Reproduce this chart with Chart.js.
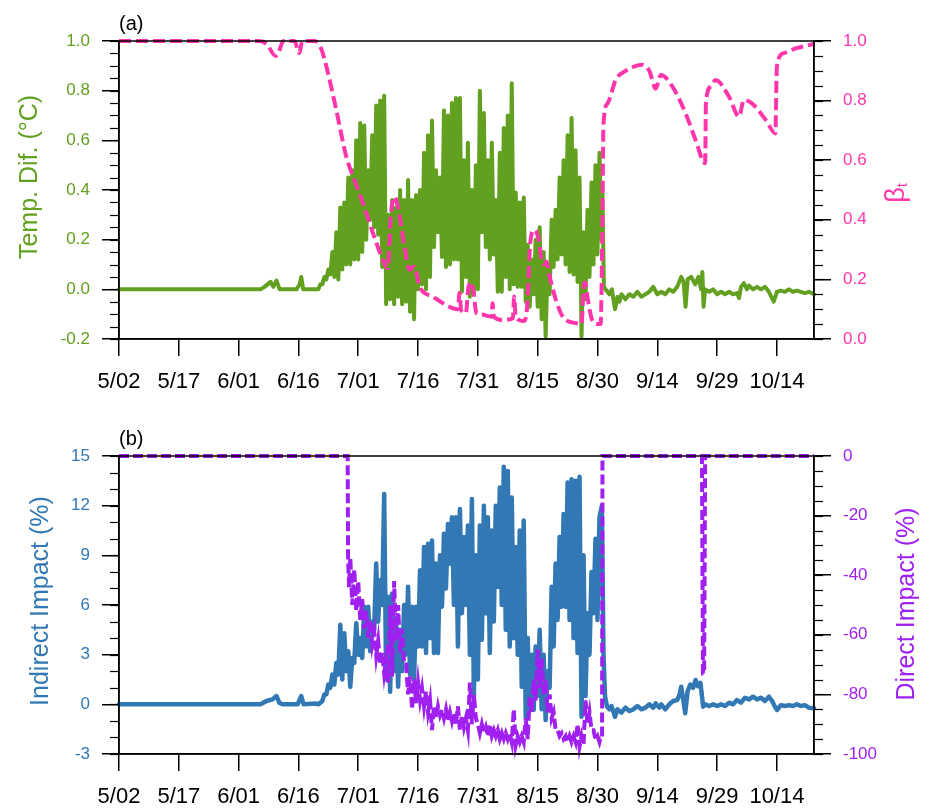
<!DOCTYPE html>
<html>
<head>
<meta charset="utf-8">
<script src="https://cdn.jsdelivr.net/npm/chart.js@4.4.1/dist/chart.umd.min.js"></script>
<style>
  html, body { margin: 0; padding: 0; background: #fff; }
  #wrap { position: relative; width: 930px; height: 808px; }
  canvas { position: absolute; left: 0; }
  #chartA { top: 0; }
  #chartB { top: 415px; }
</style>
</head>
<body>
<div id="wrap">
  <canvas id="chartA" width="930" height="393"></canvas>
  <canvas id="chartB" width="930" height="393"></canvas>
</div>
<script>
// x axis: days since 5/02
const tickDays = [0, 15, 30, 45, 60, 75, 90, 105, 120, 135, 150, 165];
const tickLabels = ['5/02', '5/17', '6/01', '6/16', '7/01', '7/16', '7/31', '8/15', '8/30', '9/14', '9/29', '10/14'];
const lastDay = 174.3;

// (a) Temp. Dif. -- quiet spans as day/value pairs, active span as daily low/high (from day 50)
const tempQuietDays = [0, 35.5, 36.5, 38, 38.7, 39.5, 40.3, 44.5, 45.3, 45.7, 46.2, 49.5,
  121.0, 121.2, 121.6, 122, 123, 123.6, 124.4, 125, 125.5, 126, 127, 128, 129, 130, 131, 132, 133, 134, 135, 136,
  137, 138, 139, 140, 141, 141.6, 142.1, 142.6, 143.5, 144.5, 145.3, 146, 146.3, 146.6, 147, 148, 149, 150, 151, 152,
  153, 154, 155, 155.5, 156, 156.7, 157.5, 158, 159, 160, 161, 162, 163, 164.2, 165, 166, 167, 168, 169, 170,
  171, 172, 173, 174.3];
const tempQuietVals = [0, 0, 0.01, 0.03, 0.01, 0.035, 0, 0, 0.02, 0.05, 0, 0,
  0.2, 0.42, 0.01, 0.0, -0.02, 0.0, -0.08, -0.03, -0.05, -0.02, -0.04, -0.02, -0.03, -0.01, -0.03, -0.02, -0.01, 0.01, -0.02, -0.01,
  -0.02, 0.0, -0.01, 0.01, 0.05, 0.03, -0.07, 0.04, 0.05, 0.02, 0.05, 0.0, 0.07, -0.07, 0.0, -0.01, 0.0, -0.02, -0.01, -0.02,
  -0.01, -0.02, -0.015, -0.035, 0.01, 0.025, 0.0, 0.015, 0.0, 0.01, 0.0, 0.01, -0.01, -0.05, -0.01, -0.005, -0.01, 0.0, -0.01, -0.005,
  -0.01, -0.015, -0.01, -0.02];
const activeStart = 50;
const tempDailyLow = [0.0, 0.02, 0.04, 0.06, 0.05, 0.04, 0.08, 0.10, 0.10, 0.12,
  0.12, 0.15, 0.20, 0.28, 0.25, 0.22, 0.09, -0.06, -0.04, -0.06,
  -0.03, -0.06, -0.05, -0.09, -0.12, 0.0, 0.02, 0.0, 0.05, 0.17,
  0.23, 0.13, 0.09, 0.10, 0.12, 0.12, -0.01, 0.05, -0.03, -0.02,
  0.0, 0.23, 0.17, 0.12, 0.14, -0.01, -0.01, 0.05, 0.0, 0.02,
  0.01, 0.01, -0.05, -0.07, -0.02, -0.07, -0.12, -0.19, -0.02, 0.09,
  0.12, 0.14, 0.10, 0.07, 0.06, 0.03, -0.19, -0.04, 0.05, 0.10,
  0.14];
const tempDailyHigh = [0.02, 0.05, 0.08, 0.15, 0.23, 0.33, 0.35, 0.45, 0.48, 0.60,
  0.67, 0.66, 0.48, 0.62, 0.74, 0.76, 0.78, 0.30, 0.36, 0.33,
  0.40, 0.36, 0.44, 0.36, 0.38, 0.40, 0.55, 0.62, 0.68, 0.48,
  0.45, 0.72, 0.70, 0.75, 0.77, 0.77, 0.52, 0.59, 0.40, 0.50,
  0.80, 0.71, 0.52, 0.59, 0.36, 0.55, 0.65, 0.70, 0.83, 0.39,
  0.35, 0.37, 0.18, 0.12, 0.20, 0.25, 0.15, 0.10, 0.28, 0.32,
  0.45, 0.52, 0.62, 0.69, 0.56, 0.45, 0.23, 0.32, 0.43, 0.50,
  0.55];

// (a) beta_t
const betaDays = [0, 35, 37, 39.3, 40, 41.2, 44, 45.2, 46, 49,
  50.5, 51.6, 54.5, 57, 58.7, 61.2, 63.7, 66.2, 67.4, 68.2,
  69.1, 70.4, 71.6, 72.9, 74.1, 75.4, 78.7, 82.9, 85, 85.4,
  85.8, 87, 87.6, 88.3, 89, 89.6, 91, 93.4, 93.7, 94,
  96.2, 98.8, 99.1, 99.5, 101.5, 102.3, 103.2, 104.2, 105.3, 105.8,
  106.6, 107.2, 108, 109.6, 111.3, 114.6, 116, 116.5, 116.9, 117.5,
  118.5, 119.2, 120.8, 121.2, 121.5, 122.5, 124.6, 127.1, 131.3, 133,
  134.6, 135.9, 138.8, 142.1, 144.6, 147, 147.2, 148.4, 149.6, 153,
  155.5, 156.7, 158.8, 162.2, 164.6, 165, 166.7, 169.7, 174.3];
const betaVals = [1, 1, 0.99, 0.95, 0.96, 1, 1, 0.96, 1, 1,
  0.98, 0.936, 0.768, 0.612, 0.545, 0.456, 0.355, 0.265, 0.237, 0.42,
  0.477, 0.41, 0.31, 0.232, 0.243, 0.175, 0.142, 0.108, 0.10, 0.155,
  0.097, 0.087, 0.17, 0.19, 0.15, 0.087, 0.082, 0.075, 0.12, 0.075,
  0.064, 0.07, 0.143, 0.075, 0.06, 0.10, 0.33, 0.366, 0.33, 0.28,
  0.25, 0.26, 0.21, 0.13, 0.075, 0.053, 0.05, 0.17, 0.19, 0.14,
  0.07, 0.053, 0.05, 0.35, 0.72, 0.79, 0.87, 0.90, 0.92, 0.90,
  0.84, 0.886, 0.847, 0.757, 0.668, 0.59, 0.79, 0.847, 0.869, 0.813,
  0.746, 0.802, 0.79, 0.735, 0.69, 0.914, 0.959, 0.975, 0.99];

// (b) Indirect Impact (%)
const indQuietDays = [0, 35.5, 37, 38.5, 39.5, 40.2, 41, 44.8, 45.7, 46.3, 49.5,
  121.1, 121.5, 121.9, 122.4, 123, 123.5, 124.4, 125, 126, 127, 128, 129, 130, 131, 132, 133, 134, 134.6, 135.5, 136,
  137, 138, 139, 140, 140.6, 141, 141.5, 142, 142.6, 143.3, 144, 144.6, 145.2, 145.8, 146.2, 146.5, 147, 148, 149, 150,
  151, 152, 153, 154, 155, 156, 157, 158, 159, 160, 161, 162, 163, 163.8, 164.5, 165, 166, 167, 168, 169,
  170, 171, 172, 173, 174.3];
const indQuietVals = [0, 0, 0.2, 0.3, 0.5, 0.1, 0, 0, 0.5, 0, 0.05,
  12.0, 3.0, 0.46, -0.14, -0.3, -0.1, -0.75, -0.3, -0.5, -0.2, -0.4, -0.3, -0.1, -0.3, -0.2, 0.0, -0.2, 0.06, -0.2, 0.0,
  -0.3, 0.0, 0.2, 0.26, 0.6, 1.06, 0.3, -0.54, 0.8, 1.2, 1.0, 1.47, 1.1, 1.3, 0.5, -0.14, 0.0, -0.1, 0.0, -0.1,
  0.0, -0.1, 0.1, 0.0, 0.26, 0.1, 0.4, 0.3, 0.46, 0.3, 0.4, 0.2, 0.46, 0.2, -0.14, -0.34, -0.05, -0.1, -0.05, -0.1,
  0.0, -0.1, -0.05, -0.2, -0.24];
const indDailyLow = [0.0, 0.2, 0.6, 1.0, 1.2, 1.8, 1.5, 2.0, 1.06, 2.5,
  3.0, 2.8, 3.5, 3.2, 4.5, 5.0, 6.0, 1.5, 0.76, 2.0,
  1.06, 2.0, 3.0, 1.8, 1.5, 3.5, 3.5, 3.1, 4.0, 3.1,
  3.1, 5.9, 7.0, 8.5, 6.0, 3.5, 5.5, 6.0, 3.0, 0.46,
  1.5, 3.9, 5.5, 3.1, 5.0, 7.1, 6.0, 4.5, 3.5, 4.0,
  3.0, 1.06, -0.75, -0.4, -0.34, 0.5, -0.3, -0.95, 1.0, 3.5,
  5.1, 5.9, 5.9, 5.1, 4.0, 3.1, -0.75, 0.5, 3.0, 5.5,
  5.1];
const indDailyHigh = [0.1, 0.6, 1.2, 1.8, 2.5, 4.8, 4.3, 3.2, 2.8, 4.9,
  4.0, 5.9, 5.9, 5.0, 8.5, 7.5, 12.7, 6.5, 6.7, 5.1,
  4.5, 6.0, 7.1, 5.9, 5.9, 8.1, 9.5, 9.7, 9.9, 8.5,
  9.0, 10.3, 10.9, 11.3, 11.3, 11.8, 10.1, 10.8, 12.4, 9.0,
  10.8, 12.0, 11.3, 10.5, 12.0, 13.1, 14.35, 14.1, 12.5, 9.5,
  10.5, 11.1, 4.0, 3.0, 3.5, 4.5, 3.0, 2.0, 7.1, 8.5,
  10.1, 11.5, 13.4, 13.6, 13.5, 13.75, 9.0, 5.5, 8.0, 10.0,
  11.3];

// (b) Direct Impact (%) -- steps as day/value pairs, active span daily high/low from day 58
const directDays = [0, 57.35, 57.45, 57.7, 120.7, 121.15, 121.25, 146.2, 146.45, 146.75, 147.0, 174.3];
const directVals = [0, 0, -34, -44, -95, -95, 0, 0, -73, -73, 0, 0];
const directStart = 58;
const directDailyHigh = [-34, -38, -42, -48, -52, -55, -59, -62, -66, -68,
  -50, -42, -50, -58, -70, -74, -75, -76, -78, -79,
  -82, -84, -84, -85, -85, -86, -86, -84, -87, -88,
  -76, -80, -90, -90, -91, -90, -92, -92, -93, -93,
  -93, -85, -94, -94, -88, -81, -75, -65, -68, -75,
  -80, -86, -92, -93, -94, -94, -94, -90, -94, -82,
  -86, -92, -94];
const directDailyLow = [-50, -52, -55, -58, -61, -63, -67, -70, -73, -76,
  -74, -62, -66, -70, -80, -85, -83, -82, -84, -86,
  -92, -88, -87, -88, -89, -89, -90, -92, -91, -92,
  -90, -88, -93, -93, -94, -94, -94, -95, -95, -95,
  -96, -97, -96, -96, -95, -86, -82, -78, -80, -86,
  -88, -92, -94, -95, -96, -96, -96, -97.5, -97, -90,
  -92, -95, -96];

const GREEN = '#62a01f', PINK = '#ff36ab', BLUE = '#3278b4', PURPLE = '#a020f0';

Chart.defaults.font.family = '"Liberation Sans", Arial, Helvetica, sans-serif';

function pairs(days, vals) {
  return days.map((d, i) => ({ x: d, y: vals[i] }));
}

// quiet points plus two points per active day (first at d + o1, second at d + o2)
function series(days, vals, start, first, second, o1, o2) {
  const pts = pairs(days, vals);
  first.forEach((v, i) => {
    pts.push({ x: start + i + o1, y: v });
    pts.push({ x: start + i + o2, y: second[i] });
  });
  return pts.sort((a, b) => a.x - b.x);
}

function drawVText(ctx, text, cx, cy, size, color) {
  ctx.save();
  ctx.translate(cx, cy);
  ctx.rotate(-Math.PI / 2);
  ctx.font = size + 'px ' + Chart.defaults.font.family;
  ctx.fillStyle = color;
  ctx.textAlign = 'center';
  ctx.textBaseline = 'middle';
  ctx.fillText(text, 0, 0);
  ctx.restore();
}

const framePlugin = {
  id: 'frame',
  afterDraw(chart, args, opts) {
    const { ctx, chartArea: a } = chart;
    ctx.save();
    ctx.strokeStyle = '#000';
    ctx.lineWidth = 1.5;
    ctx.strokeRect(a.left, a.top, a.right - a.left, a.bottom - a.top);
    // minor ticks
    ctx.lineWidth = 1.2;
    ['yL', 'yR'].forEach(id => {
      const s = chart.scales[id];
      const step = opts.minor[id];
      for (let v = s.min; v <= s.max + step / 100; v += step) {
        const p = Math.round(s.getPixelForValue(v)) + 0.5;
        ctx.beginPath();
        if (id === 'yL') { ctx.moveTo(a.left - 9, p); ctx.lineTo(a.left, p); }
        else { ctx.moveTo(a.right, p); ctx.lineTo(a.right + 9, p); }
        ctx.stroke();
      }
    });
    // panel label
    ctx.fillStyle = '#000';
    ctx.font = '20px ' + Chart.defaults.font.family;
    ctx.textAlign = 'left';
    ctx.textBaseline = 'middle';
    ctx.fillText(opts.panel, a.left, 24);
    ctx.restore();
    // axis titles
    drawVText(ctx, opts.leftTitle, opts.leftX, opts.leftY, 25, opts.leftColor);
    if (opts.rightSub) {
      ctx.save();
      ctx.translate(opts.rightX, opts.rightY);
      ctx.rotate(-Math.PI / 2);
      ctx.fillStyle = opts.rightColor;
      ctx.textBaseline = 'middle';
      ctx.textAlign = 'left';
      ctx.font = '27px ' + Chart.defaults.font.family;
      const w1 = ctx.measureText(opts.rightTitle).width;
      ctx.font = '15px ' + Chart.defaults.font.family;
      const w2 = ctx.measureText(opts.rightSub).width;
      const x0 = -(w1 + w2) / 2;
      ctx.font = '27px ' + Chart.defaults.font.family;
      ctx.fillText(opts.rightTitle, x0, 0);
      ctx.font = '15px ' + Chart.defaults.font.family;
      ctx.fillText(opts.rightSub, x0 + w1, 6);
      ctx.restore();
    } else {
      drawVText(ctx, opts.rightTitle, opts.rightX, opts.rightY, 25, opts.rightColor);
    }
  }
};

function yAxis(pos, min, max, step, color, digits, width) {
  return {
    type: 'linear',
    position: pos,
    min: min,
    max: max,
    afterFit(scale) { scale.width = width; },
    ticks: {
      stepSize: step,
      color: color,
      padding: 12,
      font: { size: 17 },
      callback: v => (Math.abs(v) < 1e-9 ? 0 : v).toFixed(digits)
    },
    grid: { drawOnChartArea: false, drawTicks: true, tickLength: 17, color: '#000', lineWidth: 1.5 },
    border: { display: true, color: '#000', width: 1.5 }
  };
}

function xAxis() {
  return {
    type: 'linear',
    min: 0,
    max: lastDay,
    afterFit(scale) { scale.height = 54; },
    afterBuildTicks(scale) { scale.ticks = tickDays.map(v => ({ value: v })); },
    ticks: {
      autoSkip: false,
      maxRotation: 0,
      color: '#000',
      padding: 13,
      font: { size: 22 },
      callback: (v, i) => tickLabels[i]
    },
    grid: { drawOnChartArea: false, drawTicks: true, tickLength: 17, color: '#000', lineWidth: 1.5 },
    border: { display: true, color: '#000', width: 1.5 }
  };
}

function baseOptions(scales, frame) {
  return {
    responsive: false,
    animation: false,
    layout: { padding: { top: 41, left: 0, right: 0, bottom: 0 } },
    elements: { point: { radius: 0 } },
    plugins: { legend: { display: false }, tooltip: { enabled: false }, frame: frame },
    scales: scales
  };
}

new Chart(document.getElementById('chartA'), {
  type: 'line',
  data: {
    datasets: [
      {
        label: 'beta_t',
        data: pairs(betaDays, betaVals),
        yAxisID: 'yR',
        borderColor: PINK,
        borderWidth: 4,
        borderDash: [12, 5],
        cubicInterpolationMode: 'monotone',
        clip: false,
        order: 0
      },
      {
        label: 'Temp. Dif.',
        data: series(tempQuietDays, tempQuietVals, activeStart, tempDailyLow, tempDailyHigh, 0, 0.5),
        yAxisID: 'yL',
        borderColor: GREEN,
        borderWidth: 4,
        borderJoinStyle: 'round',
        borderCapStyle: 'round',
        tension: 0,
        clip: 4,
        order: 1
      }
    ]
  },
  options: baseOptions({
    x: xAxis(),
    yL: yAxis('left', -0.2, 1.0, 0.2, GREEN, 1, 119),
    yR: yAxis('right', 0, 1.0, 0.2, PINK, 1, 116)
  }, {
    panel: '(a)', minor: { yL: 0.05, yR: 0.05 },
    leftTitle: 'Temp. Dif. (°C)', leftX: 30, leftY: 177, leftColor: GREEN,
    rightTitle: 'β', rightSub: 't', rightX: 897, rightY: 193, rightColor: PINK
  }),
  plugins: [framePlugin]
});

new Chart(document.getElementById('chartB'), {
  type: 'line',
  data: {
    datasets: [
      {
        label: 'Direct Impact',
        data: series(directDays, directVals, directStart, directDailyHigh, directDailyLow, 0, 0.5),
        yAxisID: 'yR',
        borderColor: PURPLE,
        borderWidth: 4,
        borderDash: [10, 4],
        tension: 0,
        clip: false,
        order: 0
      },
      {
        label: 'Indirect Impact',
        data: series(indQuietDays, indQuietVals, activeStart, indDailyLow, indDailyHigh, 0, 0.5),
        yAxisID: 'yL',
        borderColor: BLUE,
        borderWidth: 4.5,
        borderJoinStyle: 'round',
        borderCapStyle: 'round',
        tension: 0,
        clip: 4,
        order: 1
      }
    ]
  },
  options: baseOptions({
    x: xAxis(),
    yL: yAxis('left', -3, 15, 3, BLUE, 0, 119),
    yR: yAxis('right', -100, 0, 20, PURPLE, 0, 116)
  }, {
    panel: '(b)', minor: { yL: 1, yR: 5 },
    leftTitle: 'Indirect Impact (%)', leftX: 41, leftY: 186, leftColor: BLUE,
    rightTitle: 'Direct Impact (%)', rightX: 907, rightY: 189, rightColor: PURPLE
  }),
  plugins: [framePlugin]
});
</script>
</body>
</html>
